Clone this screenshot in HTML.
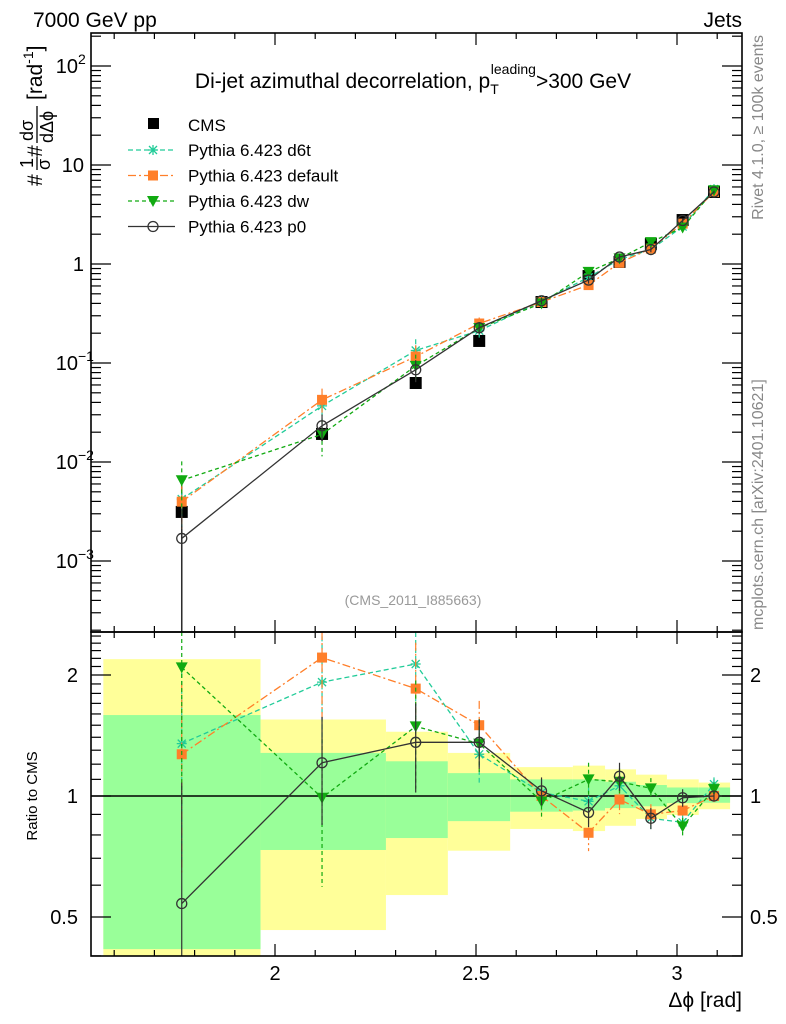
<!DOCTYPE html>
<html><head><meta charset="utf-8"><style>
html,body{margin:0;padding:0;background:#fff;}
svg{display:block;font-family:"Liberation Sans",sans-serif;}
</style></head><body>
<svg id="c" width="786" height="1024" viewBox="0 0 786 1024" xmlns="http://www.w3.org/2000/svg">
<text x="33" y="27" font-size="21">7000 GeV pp</text>
<text x="742" y="27" font-size="21" text-anchor="end">Jets</text>
<text x="413" y="88" font-size="21" text-anchor="middle">Di-jet azimuthal decorrelation, p<tspan font-size="14" dy="6">T</tspan><tspan font-size="14" dy="-20" dx="-8">leading</tspan><tspan dy="14">&gt;300 GeV</tspan></text>
<text x="413" y="605" font-size="14" fill="#999" text-anchor="middle">(CMS_2011_I885663)</text>
<text transform="translate(763,35) rotate(-90)" font-size="16" fill="#888" text-anchor="end">Rivet 4.1.0, ≥ 100k events</text>
<text transform="translate(763,630) rotate(-90)" font-size="16" fill="#888">mcplots.cern.ch [arXiv:2401.10621]</text>
<g transform="translate(0,0) rotate(-90)">
<text x="-186" y="42" font-size="21">#</text>
<text x="-168" y="33" font-size="18">1</text>
<line x1="-170" x2="-157" y1="37" y2="37" stroke="#000" stroke-width="1.3"/>
<text x="-170" y="50" font-size="18">σ</text>
<text x="-157" y="42" font-size="21">#</text>
<text x="-141" y="33" font-size="18">dσ</text>
<line x1="-143" x2="-106" y1="37" y2="37" stroke="#000" stroke-width="1.3"/>
<text x="-143" y="53" font-size="18">dΔϕ</text>
<text x="-100" y="42" font-size="21">[rad<tspan font-size="14" dy="-9">-1</tspan><tspan dy="9">]</tspan></text>
</g>
<text transform="translate(37,796) rotate(-90)" font-size="15" text-anchor="middle">Ratio to CMS</text>
<text x="742" y="1007" font-size="21" text-anchor="end">Δϕ [rad]</text>
<g id="bands"></g><g id="grid"></g><g id="series"></g><g id="axes"></g>
</svg>
<script>
const xCenters=[1.768,2.117,2.350,2.508,2.663,2.780,2.857,2.935,3.014,3.092];
const binEdges=[1.573,1.964,2.276,2.430,2.585,2.741,2.821,2.898,2.975,3.054,3.132];
const cmsValues=[0.00313,0.0192,0.0628,0.167,0.413,0.756,1.05,1.59,2.78,5.34];
const cmsErrHi=[1.3,0.15,0.1,0.08,0.05,0.05,0.05,0.04,0.03,0.03];
const cmsErrLo=[0.99,0.15,0.1,0.08,0.05,0.05,0.05,0.04,0.03,0.03];
const bandYellowHi=[2.19,1.55,1.445,1.28,1.18,1.19,1.165,1.13,1.10,1.08];
const bandYellowLo=[0.38,0.464,0.567,0.731,0.828,0.818,0.843,0.877,0.897,0.927];
const bandGreenHi=[1.59,1.28,1.22,1.14,1.10,1.10,1.085,1.065,1.05,1.05];
const bandGreenLo=[0.416,0.734,0.786,0.866,0.914,0.92,0.933,0.943,0.96,0.962];
const ratioD6t=[1.35,1.92,2.13,1.27,1.02,0.97,1.06,0.88,0.86,1.07];
const ratioDefault=[1.27,2.21,1.85,1.50,1.0,0.81,0.98,0.90,0.92,1.0];
const ratioDw=[2.09,0.99,1.49,1.35,0.97,1.10,1.085,1.045,0.84,1.04];
const ratioP0=[0.54,1.21,1.36,1.36,1.03,0.91,1.12,0.88,0.99,1.0];
const errD6t=[0.5,0.3,0.3,0.15,0.08,0.08,0.08,0.06,0.05,0.04];
const errDefault=[0.5,0.3,0.3,0.15,0.08,0.1,0.08,0.06,0.05,0.04];
const errDw=[0.55,0.4,0.3,0.15,0.1,0.1,0.08,0.06,0.05,0.04];
const errP0=[1.0,0.3,0.25,0.14,0.08,0.08,0.08,0.06,0.05,0.03];
const xTickLabels=["2","2.5","3"];
const xTickValues=[2,2.5,3];
const ratioTicks=[0.5,1,2];

const NS="http://www.w3.org/2000/svg";
const L=91,R=742,MT=33,MB=632,RT=632,RB=956;
const X=v=>275+(v-2)*402;
const Y=v=>264-99*Math.log10(v);
const YR=r=>796-121*Math.log2(r);
const clampM=y=>Math.max(MT,Math.min(MB,y));
const clampR=y=>Math.max(RT,Math.min(RB,y));
function mk(tag,attrs,parent){const e=document.createElementNS(NS,tag);for(const k in attrs)e.setAttribute(k,attrs[k]);document.getElementById(parent).appendChild(e);return e;}

binEdges.slice(0,-1).forEach((e0,i)=>{
  const x0=X(e0),x1=X(binEdges[i+1]);
  let y0=clampR(YR(bandYellowHi[i])),y1=clampR(YR(bandYellowLo[i]));
  let r=mk('rect',{x:x0,y:y0,width:x1-x0,height:y1-y0,fill:'#ffff99'},'bands');
  
  
  y0=clampR(YR(bandGreenHi[i]));y1=clampR(YR(bandGreenLo[i]));
  r=mk('rect',{x:x0,y:y0,width:x1-x0,height:y1-y0,fill:'#99ff99'},'bands');
  
  
});
let one=mk('line',{x1:L,x2:R,y1:YR(1),y2:YR(1),stroke:'#000','stroke-width':1.5},'grid');



xCenters.forEach((xv,i)=>{
  const cx=X(xv),cy=Y(cmsValues[i]);
  const e=mk('line',{x1:cx,x2:cx,y1:clampM(Y(cmsValues[i]*(1+cmsErrHi[i]))),y2:clampM(Y(cmsValues[i]*(1-cmsErrLo[i]))),stroke:'#000','stroke-width':1.5},'series');
  
  
  const m=mk('rect',{x:cx-6,y:cy-6,width:12,height:12,fill:'#000'},'series');
  
  
});

const seriesDefs=[
 {name:'d6t',r:ratioD6t,e:errD6t,c:'#22cc99',dash:'5,3',m:'star'},
 {name:'default',r:ratioDefault,e:errDefault,c:'#ff7f2a',dash:'8,3,2,3',m:'square'},
 {name:'dw',r:ratioDw,e:errDw,c:'#11aa11',dash:'4,3',m:'tri'},
 {name:'p0',r:ratioP0,e:errP0,c:'#333333',dash:'',m:'circle'}];

function marker(type,cx,cy,c,parent,name){
  let el;
  if(type==='square')el=mk('rect',{x:cx-5,y:cy-5,width:10,height:10,fill:c},parent);
  else if(type==='tri')el=mk('path',{d:`M${cx-6},${cy-5}L${cx+6},${cy-5}L${cx},${cy+6}Z`,fill:c},parent);
  else if(type==='circle')el=mk('circle',{cx:cx,cy:cy,r:5,fill:'none',stroke:c,'stroke-width':1.3},parent);
  else el=mk('path',{d:`M${cx-5},${cy}L${cx+5},${cy}M${cx},${cy-5}L${cx},${cy+5}M${cx-4},${cy-4}L${cx+4},${cy+4}M${cx-4},${cy+4}L${cx+4},${cy-4}`,stroke:c,'stroke-width':1.3,fill:'none'},parent);
  
  
}

seriesDefs.forEach(s=>{
  const vals=s.r.map((r,i)=>r*cmsValues[i]);
  const ptsM=xCenters.map((xv,i)=>X(xv)+','+Y(vals[i])).join(' ');
  const ptsR=xCenters.map((xv,i)=>X(xv)+','+clampR(YR(s.r[i]))).join(' ');
  const lm=mk('polyline',{points:ptsM,fill:'none',stroke:s.c,'stroke-width':1.3,'stroke-dasharray':s.dash},'series');
  
  
  const lr=mk('polyline',{points:ptsR,fill:'none',stroke:s.c,'stroke-width':1.3,'stroke-dasharray':s.dash},'series');
  
  
  xCenters.forEach((xv,i)=>{
    const cx=X(xv);
    const hi=1+s.e[i],lo=Math.max(0.01,1-s.e[i]);
    const eb=mk('line',{x1:cx,x2:cx,y1:clampM(Y(vals[i]*hi)),y2:clampM(Y(vals[i]*lo)),stroke:s.c,'stroke-width':1.2,'stroke-dasharray':s.dash},'series');
    
    
    const er=mk('line',{x1:cx,x2:cx,y1:clampR(YR(s.r[i]*hi)),y2:clampR(YR(s.r[i]*lo)),stroke:s.c,'stroke-width':1.2,'stroke-dasharray':s.dash},'series');
    
    
    marker(s.m,cx,Y(vals[i]),s.c,'series','point-'+s.name);
    const ry=YR(s.r[i]);
    if(ry>=RT&&ry<=RB)marker(s.m,cx,ry,s.c,'series','ratio-point-'+s.name);
  });
});

const legendNames=['Pythia 6.423 d6t','Pythia 6.423 default','Pythia 6.423 dw','Pythia 6.423 p0'];
let t=mk('text',{x:188,y:131,'font-size':17},'axes');t.textContent='CMS';


let lq=mk('rect',{x:148,y:118,width:11,height:11,fill:'#000'},'axes');


seriesDefs.forEach((s,i)=>{
  const y=150+i*25.5;
  const ln=mk('line',{x1:128,x2:175,y1:y,y2:y,stroke:s.c,'stroke-width':1.3,'stroke-dasharray':s.dash},'axes');
  
  
  marker(s.m,153,y,s.c,'axes','legend-marker-'+s.name);
  const tx=mk('text',{x:188,y:y+6,'font-size':17},'axes');
  tx.textContent=legendNames[i];
  
  
});

[[MT,MB],[RT,RB]].forEach(([a,b],k)=>{
  const f=mk('rect',{x:L,y:a,width:R-L,height:b-a,fill:'none',stroke:'#000','stroke-width':1.6},'axes');
  
  
});
function tick(x1,y1,x2,y2,name){const e=mk('line',{x1,y1,x2,y2,stroke:'#000','stroke-width':1.2},'axes');}
for(let v=1.6;v<=3.15;v+=0.1){
  const x=X(v);if(x<L||x>R)continue;
  const major=Math.abs(v*2-Math.round(v*2))<1e-6;const len=major?12:6;
  [[MT,1],[MB,-1],[RT,1],[RB,-1]].forEach(([y,d])=>tick(x,y,x,y+d*len,'x-tick'));
}
xTickValues.forEach((v,i)=>{const tx=mk('text',{x:X(v),y:980,'font-size':20,'text-anchor':'middle'},'axes');tx.textContent=xTickLabels[i];
 
 });
for(let d=-4;d<=2;d++){for(let m=1;m<10;m++){const v=m*Math.pow(10,d);const y=Y(v);if(y<MT||y>MB)continue;const len=m===1?20:10;tick(L,y,L+len,y,'y-tick');tick(R,y,R-len,y,'y-tick');}}
const yLab=[[100,'10','2'],[10,'10',''],[1,'1',''],[0.1,'10','−1'],[0.01,'10','−2'],[0.001,'10','−3']];
yLab.forEach(([v,b,e])=>{
  const tx=mk('text',{x:e?78:84,y:Y(v)+7,'font-size':20,'text-anchor':'end'},'axes');
  tx.textContent=b;
  
  
  if(e){const s=mk('text',{x:78,y:Y(v)-2,'font-size':14},'axes');s.textContent=e;
   
   }
});
for(let v=0.4;v<=2.6;v+=0.1){const y=YR(v);if(y<RT||y>RB)continue;const major=ratioTicks.some(r=>Math.abs(r-v)<1e-6);const len=major?20:10;tick(L,y,L+len,y,'ratio-y-tick');tick(R,y,R-len,y,'ratio-y-tick');}
ratioTicks.forEach(v=>{
  const tx=mk('text',{x:78,y:YR(v)+7,'font-size':20,'text-anchor':'end'},'axes');tx.textContent=String(v);
  
  
  const t2=mk('text',{x:750,y:YR(v)+7,'font-size':20},'axes');t2.textContent=String(v);
  
  
});
</script>
</body></html>
